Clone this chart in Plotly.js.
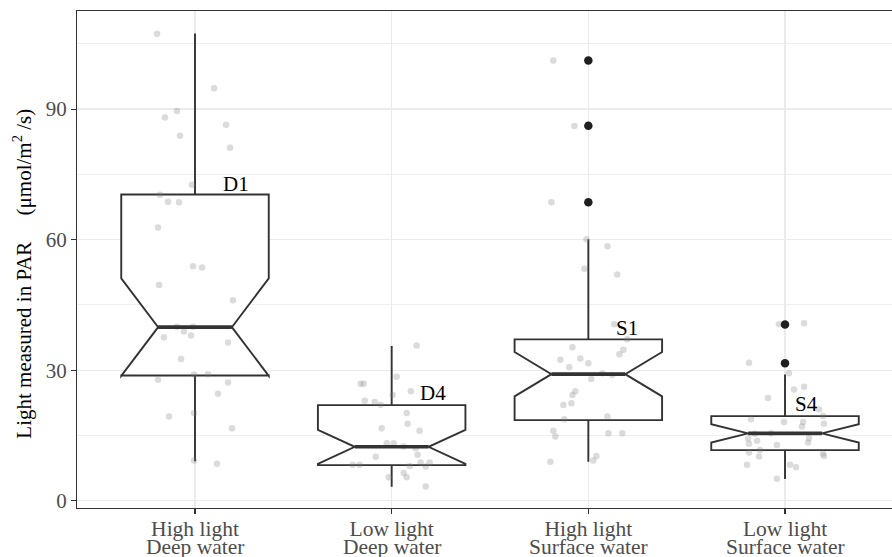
<!DOCTYPE html>
<html>
<head>
<meta charset="utf-8">
<script src="https://cdn.plot.ly/plotly-3.0.1.min.js"></script>
<style>html,body{margin:0;padding:0;background:#fff;}#chart{width:892px;height:557px;}</style>
</head>
<body>
<div id="chart"></div>
<script>
// ---- data ----
const categoriesLine1 = ['High light', 'Low light', 'High light', 'Low light'];
const categoriesLine2 = ['Deep water', 'Deep water', 'Surface water', 'Surface water'];
const boxLabels = ['D1', 'D4', 'S1', 'S4'];

const q1 = [28.81, 8.20, 18.54, 11.65];
const medians = [39.91, 12.41, 29.11, 15.49];
const q3 = [70.40, 21.99, 37.09, 19.46];
const lowerWhisker = [9.12, 3.22, 8.96, 4.99];
const upperWhisker = [107.4, 35.55, 60.13, 29.04];
const notchSpan = [11.2, 3.9, 5.1, 2.1];

const outlierGroup = [2, 2, 2, 3, 3];
const outlierValues = [101.2, 86.2, 68.6, 40.5, 31.6];

const labelY = [72.9, 24.7, 39.7, 22.2];
const labelOffset = [0.206, 0.212, 0.197, 0.111];

// jittered raw observations (value, horizontal jitter in category units)
const g1Values = [107.3, 94.8, 89.6, 88.1, 86.4, 83.9, 81.1, 72.6, 70.3, 68.7, 68.6, 62.8, 53.9, 53.6, 49.6, 46.1, 40.0, 38.9, 40.0, 38.0, 37.6, 36.4, 32.6, 29.0, 29.1, 27.8, 27.2, 24.6, 20.2, 19.4, 16.7, 9.25, 8.5];
const g1Jitter = [-0.193, 0.097, -0.092, -0.153, 0.158, -0.076, 0.178, -0.015, -0.178, -0.137, -0.081, -0.188, -0.010, 0.036, -0.183, 0.193, -0.092, -0.056, -0.010, -0.020, -0.158, 0.168, -0.071, -0.005, 0.066, -0.188, 0.168, 0.117, -0.005, -0.132, 0.188, -0.005, 0.112];

const g2Values = [35.7, 28.5, 26.9, 26.9, 25.2, 24.3, 23.0, 22.7, 22.1, 20.2, 17.7, 16.7, 16.1, 13.2, 13.2, 12.5, 12.1, 10.6, 10.1, 8.26, 8.26, 8.8, 8.8, 8.0, 7.9, 6.4, 5.4, 5.4, 3.3];
const g2Jitter = [0.127, 0.025, -0.158, -0.142, 0.097, 0.005, -0.137, -0.086, -0.056, 0.076, 0.081, -0.051, 0.142, -0.025, 0.010, 0.061, 0.122, 0.132, -0.081, -0.198, -0.163, 0.147, 0.193, 0.092, 0.173, 0.061, 0.076, -0.015, 0.173];

const g3Values = [101.2, 86.1, 68.6, 60.1, 58.5, 53.3, 52.0, 40.6, 37.1, 35.3, 34.7, 33.7, 32.7, 32.4, 31.6, 30.7, 29.3, 28.9, 28.0, 25.2, 24.3, 22.4, 22.0, 18.75, 19.35, 16.1, 14.8, 15.5, 15.5, 10.3, 9.25, 9.0];
const g3Jitter = [-0.178, -0.071, -0.188, -0.010, 0.097, -0.020, 0.147, 0.132, 0.198, -0.081, 0.178, 0.158, -0.041, -0.142, 0.000, -0.097, 0.071, 0.122, 0.015, -0.066, -0.081, -0.086, -0.127, -0.122, 0.097, -0.178, -0.168, 0.102, 0.173, 0.041, 0.025, -0.193];

const g4Values = [40.6, 40.8, 31.7, 29.3, 25.6, 26.2, 23.6, 21.0, 19.5, 18.75, 18.1, 18.1, 17.7, 17.1, 15.5, 15.4, 14.3, 13.8, 14.4, 13.4, 13.1, 12.85, 11.7, 11.1, 10.8, 10.3, 10.2, 8.3, 8.3, 7.7, 5.05];
const g4Jitter = [-0.031, 0.097, -0.183, 0.020, 0.046, 0.097, -0.086, 0.173, 0.193, -0.173, -0.005, 0.092, 0.198, 0.086, -0.071, -0.153, -0.188, -0.142, 0.122, 0.117, -0.183, -0.041, -0.127, -0.183, 0.193, 0.198, -0.132, -0.193, 0.025, 0.056, -0.041];

// ---- build ----
const FONT = "'Liberation Serif', 'Times New Roman', Times, serif";
const positions = [0, 1, 2, 3];
const BOXW = 0.75;

const groupsV = [g1Values, g2Values, g3Values, g4Values];
const groupsJ = [g1Jitter, g2Jitter, g3Jitter, g4Jitter];
const px = [], py = [];
groupsV.forEach((vals, gi) => {
  vals.forEach((v, k) => { px.push(positions[gi] + groupsJ[gi][k]); py.push(v); });
});

const medX = [], medY = [];
medians.forEach((m, i) => {
  medX.push(positions[i] - BOXW / 4, positions[i] + BOXW / 4, null);
  medY.push(m, m, null);
});

const traces = [
  {
    type: 'box', x: positions, q1: q1, median: medians, q3: q3,
    lowerfence: lowerWhisker, upperfence: upperWhisker, notchspan: notchSpan,
    notched: true, notchwidth: 0.25, width: BOXW, whiskerwidth: 0,
    boxpoints: false, fillcolor: 'white',
    line: { color: '#333333', width: 1.9 },
    hoverinfo: 'skip', showlegend: false
  },
  {
    type: 'scatter', mode: 'markers', x: px, y: py,
    marker: { size: 6.5, color: 'rgba(127,127,127,0.28)', line: { width: 0 } },
    hoverinfo: 'skip', showlegend: false
  },
  {
    type: 'scatter', mode: 'lines', x: medX, y: medY,
    line: { color: '#333333', width: 3.6 },
    hoverinfo: 'skip', showlegend: false
  },
  {
    type: 'scatter', mode: 'markers',
    x: outlierGroup.map(g => positions[g]), y: outlierValues,
    marker: { size: 8.5, color: '#1f1f1f', line: { width: 0 } },
    hoverinfo: 'skip', showlegend: false
  }
];

const annotations = [];
boxLabels.forEach((t, i) => {
  annotations.push({
    x: positions[i] + labelOffset[i], y: labelY[i], xref: 'x', yref: 'y',
    text: t, showarrow: false, xanchor: 'center', yanchor: 'middle',
    font: { family: FONT, size: 21, color: '#000' }
  });
});
categoriesLine2.forEach((t, i) => {
  annotations.push({
    x: positions[i], y: 0, xref: 'x', yref: 'paper',
    text: t, showarrow: false, xanchor: 'center', yanchor: 'middle', yshift: -39,
    font: { family: FONT, size: 21.5, color: '#4d4d4d' }
  });
});
annotations.push({
  x: 0, xref: 'paper', xshift: -54, y: 52.2, yref: 'y',
  text: 'Light measured in PAR\u00a0\u00a0\u00a0\u00a0\u00a0(\u03bcmol/m<sup>2</sup> /s)',
  textangle: -90, showarrow: false, xanchor: 'center', yanchor: 'middle',
  font: { family: FONT, size: 21, color: '#000' }
});

const layout = {
  width: 892, height: 557,
  margin: { l: 77, r: 0, t: 11, b: 49 },
  paper_bgcolor: 'white', plot_bgcolor: 'white',
  font: { family: FONT, size: 21, color: '#4d4d4d' },
  showlegend: false,
  xaxis: {
    range: [-0.6, 3.544], tickmode: 'array', tickvals: positions, ticktext: categoriesLine1,
    showgrid: true, gridcolor: '#ebebeb', gridwidth: 1.3, zeroline: false,
    showline: true, mirror: true, linecolor: '#333333', linewidth: 1,
    ticks: 'outside', ticklen: 5, tickwidth: 1.2, tickcolor: '#333333',
    ticklabelstandoff: -4,
    tickfont: { family: FONT, size: 21.5, color: '#4d4d4d' }, fixedrange: true
  },
  yaxis: {
    range: [-1.65, 112.55], tickmode: 'array', tickvals: [0, 30, 60, 90],
    showgrid: true, gridcolor: '#ebebeb', gridwidth: 1.3, zeroline: false,
    minor: { tickmode: 'array', tickvals: [15, 45, 75, 105], showgrid: true, gridcolor: '#ebebeb', gridwidth: 0.8, ticks: '' },
    showline: true, mirror: false, linecolor: '#333333', linewidth: 1,
    ticks: 'outside', ticklen: 5, tickwidth: 1.2, tickcolor: '#333333',
    tickfont: { family: FONT, size: 21, color: '#4d4d4d' }, fixedrange: true
  },
  annotations: annotations
};

Plotly.newPlot('chart', traces, layout, { displayModeBar: false, staticPlot: true });
</script>
</body>
</html>
